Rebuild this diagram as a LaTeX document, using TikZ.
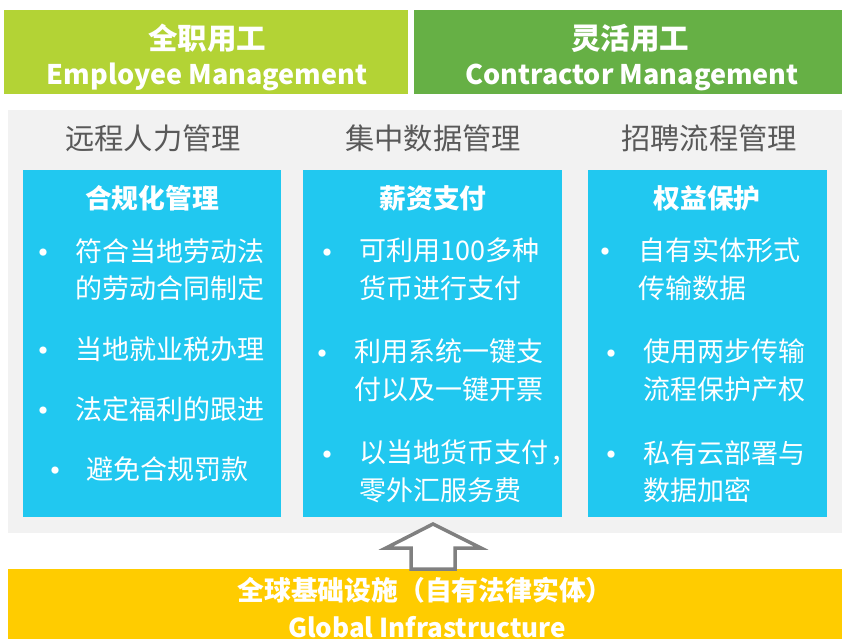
\documentclass[tikz,border=0pt]{standalone}
\usepackage{fontspec}
\setmainfont{Noto Sans CJK SC}
\definecolor{lime}{HTML}{B3D335}
\definecolor{leaf}{HTML}{66B045}
\definecolor{sky}{HTML}{21C8F0}
\definecolor{panel}{HTML}{F2F2F2}
\definecolor{gold}{HTML}{FFCC00}
\definecolor{headgray}{HTML}{595959}
\definecolor{arrowgray}{HTML}{808080}
\tikzset{
  whitetxt/.style={text=white,inner sep=0pt},
  headzh/.style={whitetxt,font=\fontsize{29.5}{32}\selectfont\bfseries},
  headen/.style={whitetxt,font=\fontsize{27}{30}\selectfont\bfseries},
  colhead/.style={text=headgray,inner sep=0pt,font=\fontsize{29.3}{32}\selectfont},
  boxtitle/.style={whitetxt,font=\fontsize{26.8}{30}\selectfont\bfseries},
  item/.style={whitetxt,anchor=west,align=left,font=\fontsize{27}{37.5}\selectfont},
  dot/.style={whitetxt,yshift=-6pt,font=\fontsize{34}{36}\selectfont},
}
\begin{document}
\begin{tikzpicture}[x=1pt,y=-1pt]
\useasboundingbox (0,0) rectangle (842,639);
\fill[white] (0,0) rectangle (842,639);
% header bands
\fill[lime] (4,10) rectangle (408,94);
\fill[leaf] (414,10) rectangle (842,94);
\node[headzh] (h1zh) at (207,38) {全职用工};
\node[headen] (h1en) at (207,77) {Employee Management};
\node[headzh] (h2zh) at (630,38) {灵活用工};
\node[headen] (h2en) at (632,77) {Contractor Management};
% gray panel
\fill[panel] (8,110) rectangle (842,533);
\node[colhead] (c1) at (153,138) {远程人力管理};
\node[colhead] (c2) at (433,138) {集中数据管理};
\node[colhead] (c3) at (709,138) {招聘流程管理};
% blue boxes
\fill[sky] (23,170) rectangle (281,517);
\fill[sky] (303,170) rectangle (562,517);
\fill[sky] (588,170) rectangle (827,517);
\node[boxtitle] (t1) at (152,198) {合规化管理};
\node[boxtitle] (t2) at (433,198) {薪资支付};
\node[boxtitle] (t3) at (707,198) {权益保护};
% column 1
\node[dot] (b11) at (43,251) {•};
\node[item] (i11) at (75,269.5) {符合当地劳动法\\的劳动合同制定};
\node[dot] (b12) at (43,349) {•};
\node[item] (i12) at (75,349) {当地就业税办理};
\node[dot] (b13) at (43,409) {•};
\node[item] (i13) at (75,409) {法定福利的跟进};
\node[dot] (b14) at (55,469) {•};
\node[item] (i14) at (86,469) {避免合规罚款};
% column 2
\node[dot] (b21) at (327,251) {•};
\node[item] (i21) at (359,269.5) {可利用100多种\\货币进行支付};
\node[dot] (b22) at (322,352) {•};
\node[item] (i22) at (354,370.5) {利用系统一键支\\付以及一键开票};
\node[dot] (b23) at (327,453) {•};
\node[item] (i23) at (359,471.5) {以当地货币支付\hspace{0.1em}，\\零外汇服务费};
% column 3
\node[dot] (b31) at (605,250) {•};
\node[item] (i31) at (638,269) {自有实体形式\\传输数据};
\node[dot] (b32) at (611,352) {•};
\node[item] (i32) at (643,370.5) {使用两步传输\\流程保护产权};
\node[dot] (b33) at (611,453) {•};
\node[item] (i33) at (643,471.5) {私有云部署与\\数据加密};
% yellow band
\fill[gold] (8,569) rectangle (842,639);
\node[whitetxt,font=\fontsize{26.8}{30}\selectfont\bfseries] (g1) at (425,590) {全球基础设施（自有法律实体）};
\node[whitetxt,font=\fontsize{26}{30}\selectfont\bfseries] (g2) at (427,627) {Global Infrastructure};
% up arrow
\draw[arrowgray,line width=3.5pt,fill=white,line join=miter]
  (433,524) -- (481,548) -- (455,548) -- (455,569) -- (411,569) -- (411,548) -- (386,548) -- cycle;
\end{tikzpicture}
\end{document}
